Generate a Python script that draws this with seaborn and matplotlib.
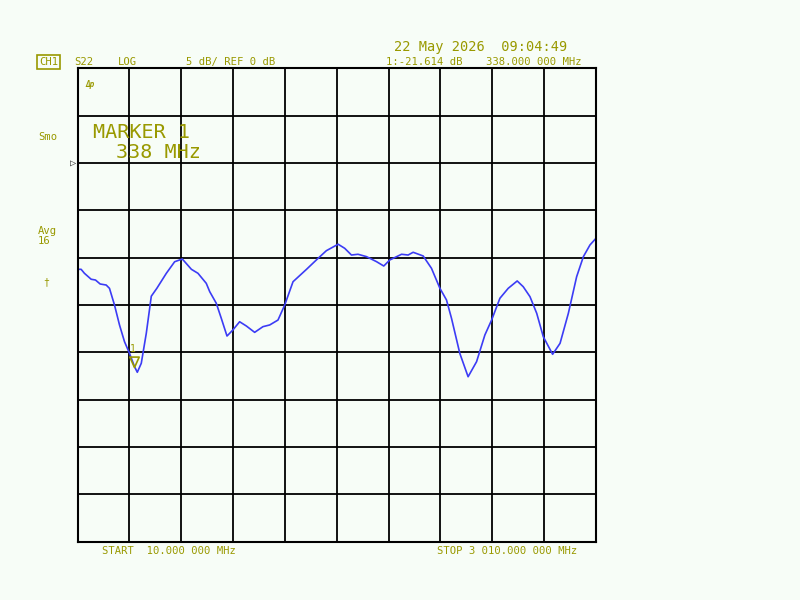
import numpy as np
import pandas as pd
import matplotlib
matplotlib.use("Agg")
import matplotlib.pyplot as plt
from matplotlib.path import Path
import seaborn as sns

# S22 trace, frequency in MHz and level in dB
freq_mhz = [10, 31, 50, 89, 114, 141, 176, 195, 224, 253, 282, 311, 340, 356,
            379, 408, 437, 469, 524, 572, 616, 630, 669, 707, 755, 775, 813,
            842, 875, 909, 948, 987, 1035, 1083, 1122, 1170, 1209, 1257, 1335,
            1392, 1450, 1518, 1556, 1595, 1633, 1682, 1740, 1782, 1817, 1885,
            1923, 1952, 2010, 2058, 2107, 2145, 2174, 2222, 2270, 2319, 2367,
            2406, 2454, 2502, 2554, 2589, 2628, 2667, 2705, 2759, 2802, 2850,
            2898, 2937, 2975, 3010]
level_db = [-11.24, -11.24, -11.66, -12.29, -12.37, -12.79, -12.90, -13.25,
            -15.01, -17.12, -18.89, -20.12, -21.53, -22.12, -21.17, -18.00,
            -14.08, -13.25, -11.66, -10.44, -10.15, -10.43, -11.24, -11.66,
            -12.72, -13.60, -14.83, -16.42, -18.29, -17.65, -16.78, -17.23,
            -17.90, -17.30, -17.12, -16.60, -15.01, -12.55, -11.24, -10.25,
            -9.27, -8.59, -9.02, -9.73, -9.65, -9.90, -10.43, -10.89, -10.25,
            -9.65, -9.73, -9.44, -9.83, -11.13, -13.25, -14.48, -16.42, -20.12,
            -22.59, -21.00, -18.18, -16.60, -14.30, -13.25, -12.47, -13.08,
            -14.13, -15.89, -18.36, -20.22, -19.06, -15.89, -12.02, -9.90,
            -8.67, -7.96]

start_mhz, stop_mhz = 10, 3010
ref_db, db_per_div = 0, 5
marker_mhz, marker_db = 338, -21.614

x_ticks = [10, 310, 610, 910, 1210, 1510, 1810, 2110, 2410, 2710, 3010]
y_ticks = [10, 5, 0, -5, -10, -15, -20, -25, -30, -35, -40]

df = pd.DataFrame({"freq": freq_mhz, "db": level_db})

sns.set_theme(style="white")
plt.rcParams["font.family"] = ["DejaVu Sans Mono", "DejaVu Sans"]

BG = "#f7fdf7"
OLIVE = "#999900"
TRACE = "#3c3cf5"

fig = plt.figure(figsize=(8, 6), dpi=100, facecolor=BG)
ax = fig.add_axes([77.5 / 800, 1 - 541.5 / 600, 518.5 / 800, 473.2 / 600])
ax.set_facecolor(BG)

sns.lineplot(data=df, x="freq", y="db", ax=ax, color=TRACE, linewidth=1.2,
             sort=False, estimator=None)

ax.set_xlim(start_mhz, stop_mhz)
ax.set_ylim(y_ticks[-1], y_ticks[0])
ax.set_xticks(x_ticks)
ax.set_yticks(y_ticks)
ax.set_xticklabels([])
ax.set_yticklabels([])
ax.tick_params(length=0)
ax.set_xlabel("")
ax.set_ylabel("")
ax.grid(True, color="black", linewidth=1.3)
for s in ax.spines.values():
    s.set_color("black")
    s.set_linewidth(1.5)

# marker 1: hollow down-triangle with tip on the trace value
tri = Path([(-0.45, 1.0), (0.45, 1.0), (0.0, 0.0), (-0.45, 1.0)],
           [Path.MOVETO, Path.LINETO, Path.LINETO, Path.CLOSEPOLY])
ax.plot([marker_mhz], [marker_db], marker=tri, markersize=15,
        markerfacecolor="none", markeredgecolor=OLIVE, markeredgewidth=1.2,
        linestyle="none")
ax.annotate("1", xy=(marker_mhz, marker_db), xytext=(-1, 10),
            textcoords="offset points", ha="center", va="bottom",
            fontsize=7, color=OLIVE)

# reference level arrow
ax.annotate("▷", xy=(0, ref_db), xycoords=("axes fraction", "data"),
            xytext=(-1, 0), textcoords="offset points",
            ha="right", va="center", fontsize=7.5, color="#333333")

ax.text(0.016, 0.965, "Δp", transform=ax.transAxes, fontsize=5.5,
        color=OLIVE, style="italic", fontweight="bold", va="center")


def ftext(x, y, s, size=7.6, **kw):
    fig.text(x / 800, 1 - y / 600, s, fontsize=size, color=OLIVE,
             va="center", ha="left", **kw)


ftext(39, 62, "CH1", bbox=dict(boxstyle="square,pad=0.15", fc="none",
                               ec=OLIVE, lw=1.2))
ftext(74, 62, "S22")
ftext(118, 62, "LOG")
ftext(186, 62, "5 dB/ REF 0 dB")
ftext(394, 47, "22 May 2026  09:04:49", size=9.8)
ftext(386, 62, "1:-21.614 dB")
ftext(486, 62, "338.000 000 MHz")
ftext(38, 137, "Smo")
ftext(38, 231, "Avg")
ftext(38, 241, "16")
ftext(43, 282, "†", size=7)
ftext(93, 132, "MARKER 1", size=14.5)
ftext(116, 153, "338 MHz", size=14.5)
ftext(102, 551, "START  10.000 000 MHz")
ftext(437, 551, "STOP 3 010.000 000 MHz")

fig.savefig("out.png", dpi=100, facecolor=BG)
